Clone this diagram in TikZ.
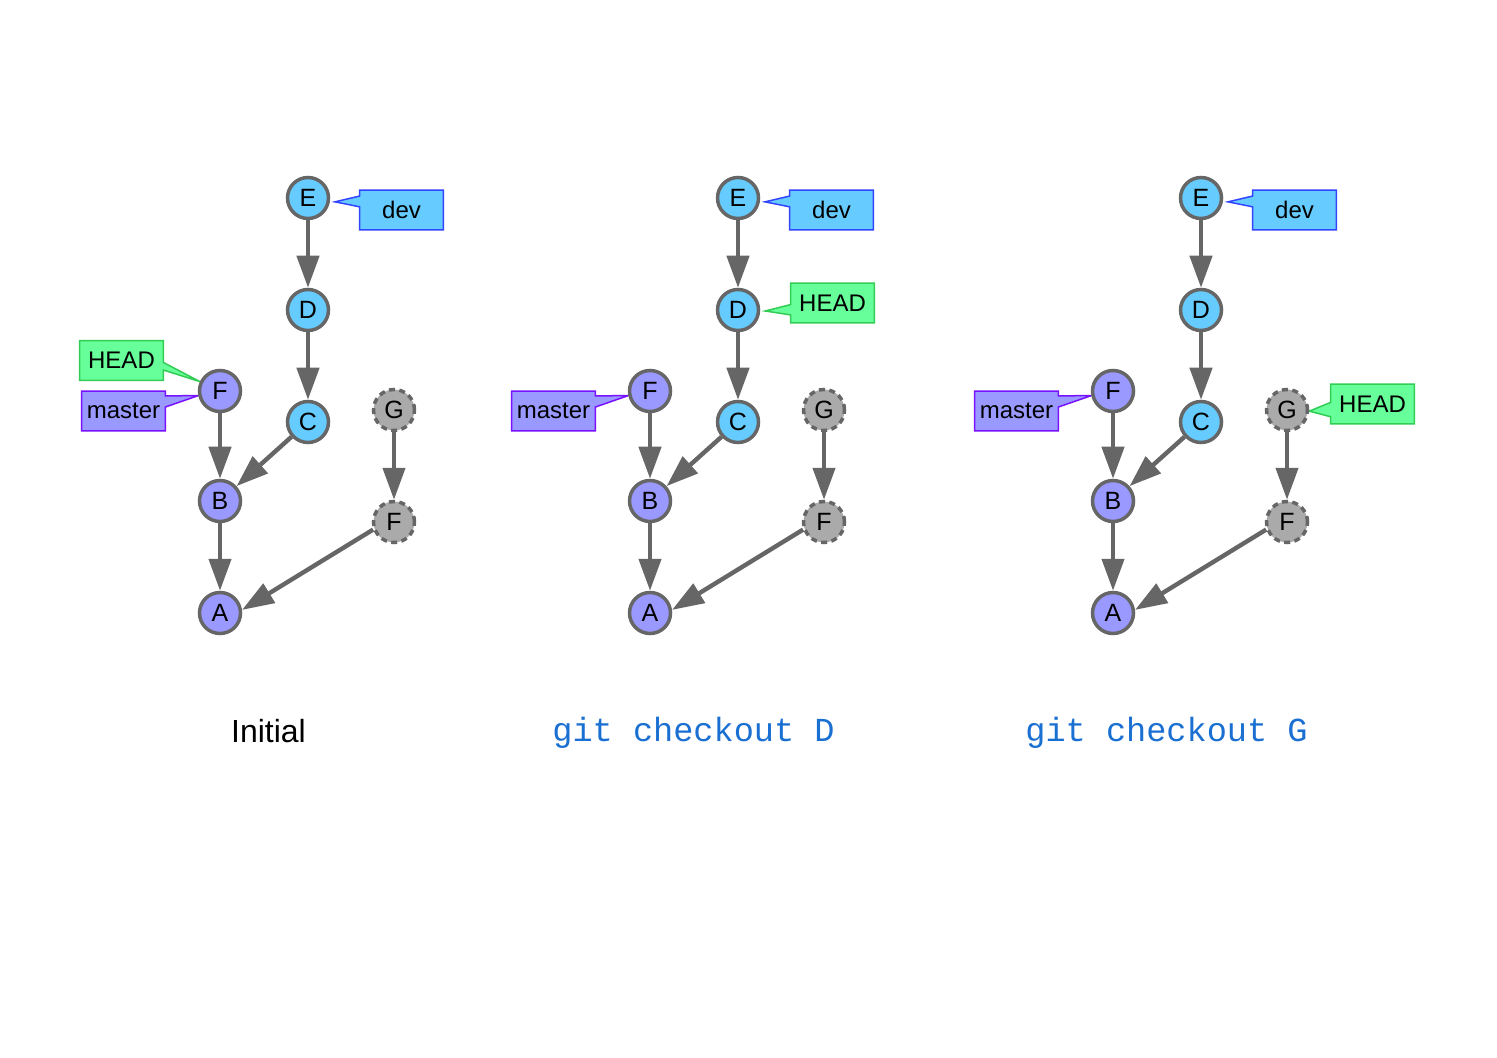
\documentclass[tikz,border=0pt]{standalone}
\usepackage{fontspec}
\setmainfont{Liberation Sans}
\setmonofont{Liberation Mono}
\usetikzlibrary{arrows.meta,calc,backgrounds}

\definecolor{devfill}{HTML}{66CCFF}
\definecolor{devline}{HTML}{3344FF}
\definecolor{masterfill}{HTML}{9999FF}
\definecolor{masterline}{HTML}{7711FF}
\definecolor{headfill}{HTML}{66FF99}
\definecolor{headline}{HTML}{33CC55}
\definecolor{lostgray}{HTML}{AAAAAA}
\definecolor{edgegray}{HTML}{666666}
\definecolor{cmdblue}{HTML}{1A6FD2}

\tikzset{
  commit/.style={circle, draw=edgegray, line width=1.75pt, minimum size=20.5pt,
    inner sep=0pt, font=\fontsize{12.5}{14}\selectfont},
  onmaster/.style={commit, fill=masterfill},
  ondev/.style={commit, fill=devfill},
  dangling/.style={commit, fill=lostgray, dash pattern=on 3pt off 2.2pt},
  parent/.style={draw=edgegray, line width=2.2pt, -{Triangle[length=16pt,width=11pt]}},
  reflabel/.style={minimum width=41.5pt, minimum height=19.5pt, inner sep=0pt,
    font=\fontsize{12}{14}\selectfont},
  devref/.style={fill=devfill, draw=devline, line width=0.75pt},
  masterref/.style={fill=masterfill, draw=masterline, line width=0.75pt},
  headref/.style={fill=headfill, draw=headline, line width=0.75pt},
}

% box on the right of its commit, pointer on the left side
% #1 name, #2 position, #3 text, #4 style, #5 tip, #6 #7 where the pointer leaves the side
\newcommand{\refright}[7]{%
  \node[reflabel] (#1) at #2 {#3};
  \begin{pgfonlayer}{background}
    \draw[#4] (#1.north west) -- (#1.north east) -- (#1.south east) -- (#1.south west)
      -- ($(#1.north west)!#7!(#1.south west)$) -- #5
      -- ($(#1.north west)!#6!(#1.south west)$) -- cycle;
  \end{pgfonlayer}}
% box on the left of its commit, pointer on the right side
\newcommand{\refleft}[7]{%
  \node[reflabel] (#1) at #2 {#3};
  \begin{pgfonlayer}{background}
    \draw[#4] (#1.north east) -- (#1.north west) -- (#1.south west) -- (#1.south east)
      -- ($(#1.north east)!#7!(#1.south east)$) -- #5
      -- ($(#1.north east)!#6!(#1.south east)$) -- cycle;
  \end{pgfonlayer}}

\begin{document}
\begin{tikzpicture}[x=0.5pt, y=-0.5pt]
  \useasboundingbox (0,0) rectangle (1497,1058);

  % the same history three times
  \foreach \p/\dx in {1/0, 2/430, 3/893} {
    \begin{scope}[shift={(\dx,0)}]
      \node[ondev] (E\p) at (308,198) {E};
      \node[ondev] (D\p) at (308,310) {D};
      \node[ondev] (C\p) at (308,422) {C};
      \node[onmaster] (F\p) at (220,391) {F};
      \node[onmaster] (B\p) at (220,501) {B};
      \node[onmaster] (A\p) at (220,613) {A};
      \node[dangling] (G\p) at (394,410) {G};
      \node[dangling] (Fd\p) at (394,522) {F};

      \draw[parent] (E\p) -- (D\p);
      \draw[parent] (D\p) -- (C\p);
      \draw[parent] (C\p) -- (B\p);
      \draw[parent] (F\p) -- (B\p);
      \draw[parent] (B\p) -- (A\p);
      \draw[parent] (G\p) -- (Fd\p);
      \draw[parent] (Fd\p.200) -- (A\p.8);

      \refright{dev\p}{(401.5,210)}{dev}{devref}{($(E\p.-10)+(5,0)$)}{0.15}{0.42}
      \refleft{master\p}{(123.5,411)}{master}{masterref}{(F\p.192)}{0.12}{0.4}
    \end{scope}
  }

  % where HEAD points
  \refleft{head1}{(121.5,360.5)}{HEAD}{headref}{(F1.155)}{0.55}{0.74}
  \refright{head2}{(832.5,303)}{HEAD}{headref}{($(D2.east)+(5,1)$)}{0.54}{0.8}
  \refright{head3}{(1372.5,404)}{HEAD}{headref}{(G3.-3)}{0.46}{0.82}

  \node[anchor=base, font=\fontsize{16}{19}\selectfont] (cap1) at (268.5,742) {Initial};
  \node[anchor=base, font=\ttfamily\fontsize{16.8}{20}\selectfont, text=cmdblue] (cap2) at (693.5,741) {git checkout D};
  \node[anchor=base, font=\ttfamily\fontsize{16.8}{20}\selectfont, text=cmdblue] (cap3) at (1166.5,741) {git checkout G};
\end{tikzpicture}
\end{document}
